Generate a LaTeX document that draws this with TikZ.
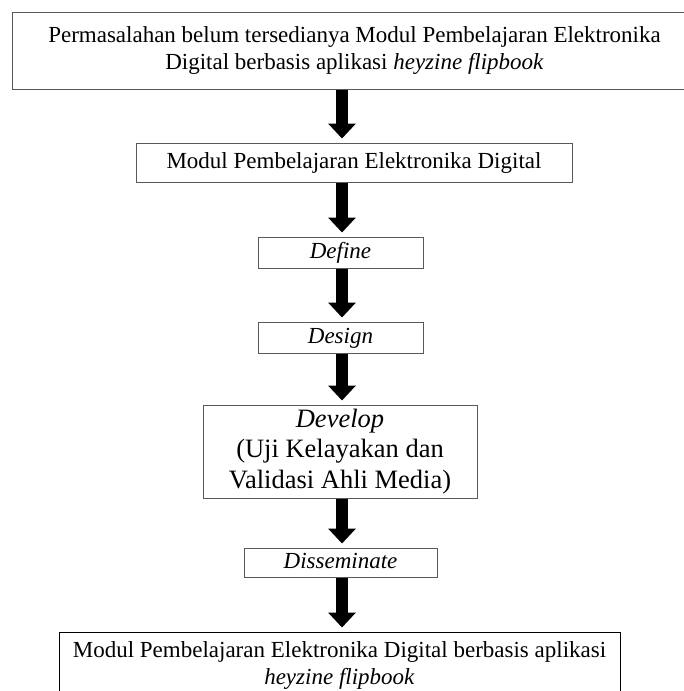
\documentclass[tikz,border=0pt]{standalone}
\usepackage{fontspec}
\setmainfont{Liberation Serif}
\usetikzlibrary{arrows.meta}

\begin{document}
\begin{tikzpicture}[x=1pt, y=-1pt,
    box/.style={draw=black!65, line width=1pt, align=center, inner sep=0pt,
        font=\fontsize{23}{27}\selectfont},
    single/.style={text height=17pt, text depth=5pt},
    flow/.style={line width=12pt, -{Triangle[width=27pt, length=15pt]}, shorten >=4pt}]
    \useasboundingbox (0,0) rectangle (683,691);
    \coordinate (axis) at (342,0);

    % boxes, top to bottom
    \node[box, minimum width=685pt, minimum height=77pt] (problem) at (354.5,50.5)
        {Permasalahan belum tersedianya Modul Pembelajaran Elektronika\\
         Digital berbasis aplikasi \textit{heyzine flipbook}};
    \node[box, single, minimum width=436pt, minimum height=39pt] (modul) at (354,162.5)
        {Modul Pembelajaran Elektronika Digital};
    \node[box, single, minimum width=165pt, minimum height=31pt] (define) at (340.5,252.5)
        {\textit{Define}};
    \node[box, single, minimum width=165pt, minimum height=31pt] (design) at (340.5,337.5)
        {\textit{Design}};
    \node[box, minimum width=274pt, minimum height=93pt,
        font=\fontsize{26.5}{30.5}\selectfont] (develop) at (340,451.5)
        {\textit{Develop}\\(Uji Kelayakan dan\\Validasi Ahli Media)};
    \node[box, single, minimum width=193pt, minimum height=29pt] (disseminate) at (340.5,562.5)
        {\textit{Disseminate}};
    \node[box, draw=black, minimum width=561pt, minimum height=66pt] (product) at (339.5,665)
        {Modul Pembelajaran Elektronika Digital berbasis aplikasi\\
         \textit{heyzine flipbook}};

    % arrows
    \draw[flow] (problem.south -| axis) -- (modul.north -| axis);
    \draw[flow] (modul.south -| axis) -- (define.north -| axis);
    \draw[flow] (define.south -| axis) -- (design.north -| axis);
    \draw[flow] (design.south -| axis) -- (develop.north -| axis);
    \draw[flow] (develop.south -| axis) -- (disseminate.north -| axis);
    \draw[flow] (disseminate.south -| axis) -- (product.north -| axis);
\end{tikzpicture}
\end{document}
